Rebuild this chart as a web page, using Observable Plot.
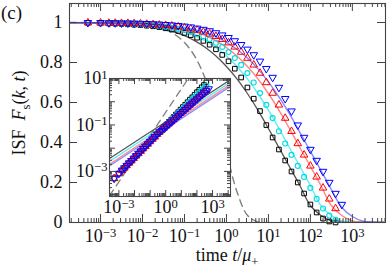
<!DOCTYPE html>
<html><head><meta charset="utf-8">
<script src="https://cdn.jsdelivr.net/npm/d3@7"></script>
<script src="https://cdn.jsdelivr.net/npm/@observablehq/plot@0.6"></script>
<style>
body{margin:0;background:#fff;}
#wrap{position:relative;width:387px;height:269px;font-family:"Liberation Serif",serif;color:#111;overflow:hidden;}
#wrap svg{position:absolute;}
.lab{position:absolute;white-space:nowrap;font-family:"Liberation Serif",serif;font-size:18px;line-height:1;}
</style></head><body><div id="wrap"></div>
<script>
// ---------- data ----------
const markerTimes = [0.0005,0.001,0.00158,0.00224,0.00316,0.00447,0.00631,0.00891,0.0126,0.0178,
  0.0251,0.0355,0.0501,0.0708,0.1,0.141,0.2,0.282,0.398,0.562,
  0.794,1.12,1.58,2.24,3.16,4.47,6.31,8.91,12.6,17.8,
  25.1,35.5,50.1,70.8,100,141,200,282,398,562];
const fBlack = [.998,.996,.995,.994,.993,.991,.989,.987,.984,.981,.977,.971,.965,.958,.948,.937,.924,.908,.889,.866,
  .838,.806,.769,.725,.675,.619,.557,.487,.425,.365,.31,.255,.20,.145,.09,.05,.02,.005,0,null];
const fCyan = [.999,.997,.996,.996,.995,.994,.992,.990,.988,.986,.983,.979,.974,.968,.962,.953,.943,.931,.916,.899,
  .878,.852,.822,.788,.747,.70,.647,.588,.522,.456,.395,.338,.283,.228,.173,.118,.07,.035,.013,null];
const fRed = [.999,.998,.997,.997,.996,.996,.995,.994,.992,.990,.988,.986,.983,.979,.974,.968,.962,.953,.943,.931,
  .916,.899,.878,.852,.822,.788,.747,.70,.647,.588,.522,.456,.395,.338,.283,.228,.173,.118,.07,null];
const fBlue = [.999,.999,.998,.998,.997,.997,.996,.995,.994,.993,.991,.989,.987,.984,.981,.977,.971,.965,.958,.948,
  .937,.924,.908,.889,.866,.838,.806,.769,.725,.675,.619,.557,.487,.425,.365,.31,.255,.20,.145,.09];

const lineTimes = [0.000178,0.000316,0.000562,0.001,0.00178,0.00316,0.00562,0.01,0.0178,0.0316,0.0562,0.1,0.178,0.316,0.562,
  1,1.78,3.16,5.62,10,17.8,31.6,56.2,100,178,316,562,1000,1780,3160,5620];
const lineGray = [.999,.999,.998,.997,.995,.993,.989,.984,.977,.967,.953,.934,.908,.875,.832,.78,.718,.645,.562,.47,.375,.28,.185,.085,.035,.008,.002,0,0,0,0];
const lineCyan = [.999,.999,.999,.998,.997,.995,.993,.989,.984,.977,.967,.953,.934,.908,.875,.832,.78,.718,.645,.562,.47,.375,.28,.185,.085,.035,.008,.002,0,0,0];
const lineRed  = [.999,.999,.999,.999,.998,.997,.995,.993,.989,.984,.977,.967,.953,.934,.908,.875,.832,.78,.718,.645,.562,.47,.375,.28,.185,.085,.035,.008,.002,0,0];
const lineBlue = [.999,.999,.999,.999,.999,.998,.997,.995,.992,.988,.983,.975,.964,.949,.929,.901,.866,.822,.768,.703,.628,.544,.451,.356,.261,.165,.075,.03,.007,.002,0];
const dashTimes = [0.000178,0.000316,0.000562,0.001,0.00178,0.00316,0.00562,0.01,0.0178,0.0316,0.0562,0.1,0.178,0.316,0.562,1,1.78,3.16,5.62,10];
const lineDash = [.9998,.9997,.9994,.9989,.9981,.9967,.9941,.9895,.9814,.9673,.9425,.900,.829,.717,.553,.349,.154,.036,.0027,0];

// inset (log-log)
const insetBlack = [5.0e-4,8.1e-4,1.11e-3,1.41e-3,1.78e-3,2.29e-3,2.88e-3,3.63e-3,4.68e-3,5.89e-3,7.41e-3,9.55e-3,1.20e-2,1.51e-2,1.95e-2,2.45e-2,3.09e-2,3.98e-2,5.01e-2,
  .0646,.0813,.105,.135,.170,.219,.282,.355,.457,.589,.741,.955,1.23,1.55,2.0,2.57,3.24,4.17,5.25,6.76,null];
const insetCyan = [5.0e-4,8.1e-4,1.11e-3,1.41e-3,1.78e-3,2.29e-3,2.88e-3,3.63e-3,4.68e-3,5.89e-3,7.41e-3,9.55e-3,1.20e-2,1.51e-2,1.95e-2,2.45e-2,3.09e-2,3.98e-2,5.01e-2,
  .0631,.0794,.1,.126,.158,.2,.251,.316,.398,.501,.631,.794,1.0,1.26,1.58,2.0,2.51,3.16,3.98,5.01,null];
const insetRed = [5.0e-4,8.1e-4,1.11e-3,1.41e-3,1.78e-3,2.29e-3,2.88e-3,3.63e-3,4.68e-3,5.89e-3,7.41e-3,9.55e-3,1.20e-2,1.51e-2,1.95e-2,2.45e-2,3.09e-2,3.98e-2,5.01e-2,
  .0617,.0759,.0933,.115,.141,.174,.214,.263,.324,.398,.49,.603,.741,.912,1.12,1.38,1.70,2.09,2.57,3.16,null];
const insetBlue = [5.0e-4,8.1e-4,1.11e-3,1.41e-3,1.78e-3,2.29e-3,2.88e-3,3.63e-3,4.68e-3,5.89e-3,7.41e-3,9.55e-3,1.20e-2,1.51e-2,1.95e-2,2.45e-2,3.09e-2,3.98e-2,5.01e-2,
  .0575,.0708,.0871,.107,.132,.162,.2,.245,.302,.372,.457,.562,.692,.851,1.05,1.29,1.58,1.95,2.4,2.95,3.55];
const insetLineTimes = [0.00025,14000];
const insetLineGray = [0.0036,8.9];
const insetLineCyan = [0.0027,7.0];
const insetLineRed  = [0.0020,5.6];
const insetLineBlue = [0.0017,4.6];
const insetDashTimes = [0.00025,28.2];
const insetDash = [0.000089,10];

// ticks
const xMajor = [1e-3,1e-2,1e-1,1,10,100,1000];
const yMajor = [0,0.2,0.4,0.6,0.8,1];
const insetXLabeled = [1e-3,1,1e3];
const insetXMajor = [1e-3,1e-2,1e-1,1,10,100,1e3,1e4];
const insetYLabeled = [1e-3,1e-1,10];
const insetYMajor = [1e-4,1e-3,1e-2,1e-1,1,10];

// ---------- helpers ----------
const rows = (ts, vs) => ts.map((t,i)=>({t, v: vs[i]})).filter(d => d.v != null);
function minorTicks(lo, hi){ const out=[]; for(let k=-5;k<=5;k++) for(let m=2;m<=9;m++){const v=m*Math.pow(10,k); if(v>lo&&v<hi) out.push(v);} return out; }
const fmtPow = d => "10^" + Math.round(Math.log10(d));
const axisCol = "#444";
const C = {black:"#000", cyan:"#00dbe6", red:"#ff0000", blue:"#0000ff"};
const MS = {sq:2.6, ci:2.5, tr:2.8};

function supify(svg){
  const ns="http://www.w3.org/2000/svg";
  svg.querySelectorAll("text").forEach(t=>{
    const m = t.textContent.match(/^10\^(-?\d+)$/);
    if(m){ t.textContent="10"; const s=document.createElementNS(ns,"tspan"); s.setAttribute("dy","-0.45em"); s.setAttribute("font-size","0.7em"); s.textContent=m[1].replace("-","\u2212"); t.appendChild(s); }
  });
}
function markerMarks(ts, b, c, r, bl){
  return [
    Plot.dot(rows(ts,b),{x:"t",y:"v",symbol:"square",r:MS.sq,stroke:C.black,strokeWidth:1,fill:"none"}),
    Plot.dot(rows(ts,c),{x:"t",y:"v",symbol:"circle",r:MS.ci,stroke:C.cyan,strokeWidth:1.1,fill:"none"}),
    Plot.dot(rows(ts,r),{x:"t",y:"v",symbol:"triangle",r:MS.tr,stroke:C.red,strokeWidth:1,fill:"none"}),
    Plot.dot(rows(ts,bl),{x:"t",y:"v",symbol:"triangle",rotate:180,r:MS.tr,stroke:C.blue,strokeWidth:1,fill:"none"})
  ];
}

// ---------- main plot ----------
const mW=387, mH=269, mL=69, mR=2, mT=3, mB=47;
const fw = mW-mL-mR, fh = mH-mT-mB;
const xDom=[1.82e-4, 6166];
const main = Plot.plot({
  width:mW, height:mH, marginLeft:mL, marginRight:mR, marginTop:mT, marginBottom:mB,
  x:{type:"log", domain:xDom, label:null}, y:{domain:[0,1.095], label:null},
  style:{fontFamily:"Liberation Serif", fontSize:"18px", background:"transparent", color:"#111"},
  marks:[
    Plot.line(rows(dashTimes,lineDash),{x:"t",y:"v",stroke:"#808080",strokeWidth:1.4,strokeDasharray:"7,5",curve:"catmull-rom",clip:true}),
    Plot.line(rows(lineTimes,lineGray),{x:"t",y:"v",stroke:"#555",strokeWidth:1.3,curve:"catmull-rom",clip:true}),
    Plot.line(rows(lineTimes,lineCyan),{x:"t",y:"v",stroke:"#00e0ea",strokeOpacity:0.6,strokeWidth:1.4,curve:"catmull-rom",clip:true}),
    Plot.line(rows(lineTimes,lineRed),{x:"t",y:"v",stroke:"#ff2020",strokeOpacity:0.55,strokeWidth:1.4,curve:"catmull-rom",clip:true}),
    Plot.line(rows(lineTimes,lineBlue),{x:"t",y:"v",stroke:"#2020ff",strokeOpacity:0.55,strokeWidth:1.4,curve:"catmull-rom",clip:true}),
    ...markerMarks(markerTimes,fBlack,fCyan,fRed,fBlue),
    Plot.tickX(xMajor,{x:d=>d,insetTop:fh-8,stroke:axisCol}),
    Plot.tickX(xMajor,{x:d=>d,insetBottom:fh-8,stroke:axisCol}),
    Plot.tickX(minorTicks(xDom[0],xDom[1]),{x:d=>d,insetTop:fh-4,stroke:axisCol}),
    Plot.tickX(minorTicks(xDom[0],xDom[1]),{x:d=>d,insetBottom:fh-4,stroke:axisCol}),
    Plot.tickY(yMajor,{y:d=>d,insetRight:fw-8,stroke:axisCol}),
    Plot.tickY(yMajor,{y:d=>d,insetLeft:fw-8,stroke:axisCol}),
    Plot.axisX(xMajor,{tickSize:0,tickPadding:7,tickFormat:fmtPow,fontSize:18,label:null}),
    Plot.axisY(yMajor,{tickSize:0,tickPadding:7,tickFormat:d=>String(d),fontSize:18,label:null}),
    Plot.frame({stroke:axisCol,strokeWidth:1.1})
  ]
});
supify(main);
main.style.left="0px"; main.style.top="0px";

// ---------- inset ----------
const iW=160, iH=150, iL=33, iT=8, iR=6, iB=24;
const ifw=iW-iL-iR, ifh=iH-iT-iB;
const ixDom=[2.5e-4,1.41e4], iyDom=[8.3e-5,10];
const inset = Plot.plot({
  width:iW, height:iH, marginLeft:iL, marginRight:iR, marginTop:iT, marginBottom:iB,
  x:{type:"log", domain:ixDom, label:null}, y:{type:"log", domain:iyDom, label:null},
  style:{fontFamily:"Liberation Serif", fontSize:"18px", background:"transparent", color:"#111", overflow:"visible"},
  marks:[
    Plot.frame({fill:"white",stroke:null}),
    Plot.line(rows(insetDashTimes,insetDash),{x:"t",y:"v",stroke:"#808080",strokeWidth:1.3,strokeDasharray:"7,5",clip:true}),
    Plot.line(rows(insetLineTimes,insetLineGray),{x:"t",y:"v",stroke:"#555",strokeWidth:1.2,clip:true}),
    Plot.line(rows(insetLineTimes,insetLineCyan),{x:"t",y:"v",stroke:"#00e0ea",strokeOpacity:0.6,strokeWidth:1.3,clip:true}),
    Plot.line(rows(insetLineTimes,insetLineRed),{x:"t",y:"v",stroke:"#ff2020",strokeOpacity:0.5,strokeWidth:1.3,clip:true}),
    Plot.line(rows(insetLineTimes,insetLineBlue),{x:"t",y:"v",stroke:"#2020ff",strokeOpacity:0.5,strokeWidth:1.3,clip:true}),
    ...markerMarks(markerTimes,insetBlack,insetCyan,insetRed,insetBlue),
    Plot.tickX(insetXMajor,{x:d=>d,insetTop:ifh-6,stroke:axisCol}),
    Plot.tickX(insetXMajor,{x:d=>d,insetBottom:ifh-6,stroke:axisCol}),
    Plot.tickX(minorTicks(ixDom[0],ixDom[1]),{x:d=>d,insetTop:ifh-3,stroke:axisCol}),
    Plot.tickX(minorTicks(ixDom[0],ixDom[1]),{x:d=>d,insetBottom:ifh-3,stroke:axisCol}),
    Plot.tickY(insetYMajor,{y:d=>d,insetRight:ifw-6,stroke:axisCol}),
    Plot.tickY(insetYMajor,{y:d=>d,insetLeft:ifw-6,stroke:axisCol}),
    Plot.tickY(minorTicks(iyDom[0],iyDom[1]),{y:d=>d,insetRight:ifw-3,stroke:axisCol}),
    Plot.tickY(minorTicks(iyDom[0],iyDom[1]),{y:d=>d,insetLeft:ifw-3,stroke:axisCol}),
    Plot.axisX(insetXLabeled,{tickSize:0,tickPadding:4,tickFormat:fmtPow,fontSize:18,label:null}),
    Plot.axisY(insetYLabeled,{tickSize:0,tickPadding:2,tickFormat:fmtPow,fontSize:18,label:null}),
    Plot.frame({stroke:axisCol,strokeWidth:1.1})
  ]
});
supify(inset);
inset.style.left=(109-iL)+"px"; inset.style.top=(78-iT)+"px";

const wrap=document.getElementById("wrap");
wrap.appendChild(main);
wrap.appendChild(inset);

// labels
const c=document.createElement("div"); c.className="lab"; c.style.left="1px"; c.style.top="3px"; c.style.fontSize="19px"; c.textContent="(c)"; wrap.appendChild(c);
const xl=document.createElement("div"); xl.className="lab"; xl.style.left="227px"; xl.style.top="246px"; xl.style.transform="translateX(-50%)";
xl.innerHTML='time <i>t</i>/<i>μ</i><sub style="font-size:0.7em;line-height:0">+</sub>'; wrap.appendChild(xl);
const yl=document.createElement("div"); yl.className="lab"; yl.style.left="19px"; yl.style.top="113px"; yl.style.transform="translate(-50%,-50%) rotate(-90deg)";
yl.innerHTML='ISF&nbsp;&nbsp;<i>F</i><sub style="font-size:0.7em;line-height:0">s</sub>(<i>k</i>, <i>t</i>)'; wrap.appendChild(yl);
</script></body></html>
